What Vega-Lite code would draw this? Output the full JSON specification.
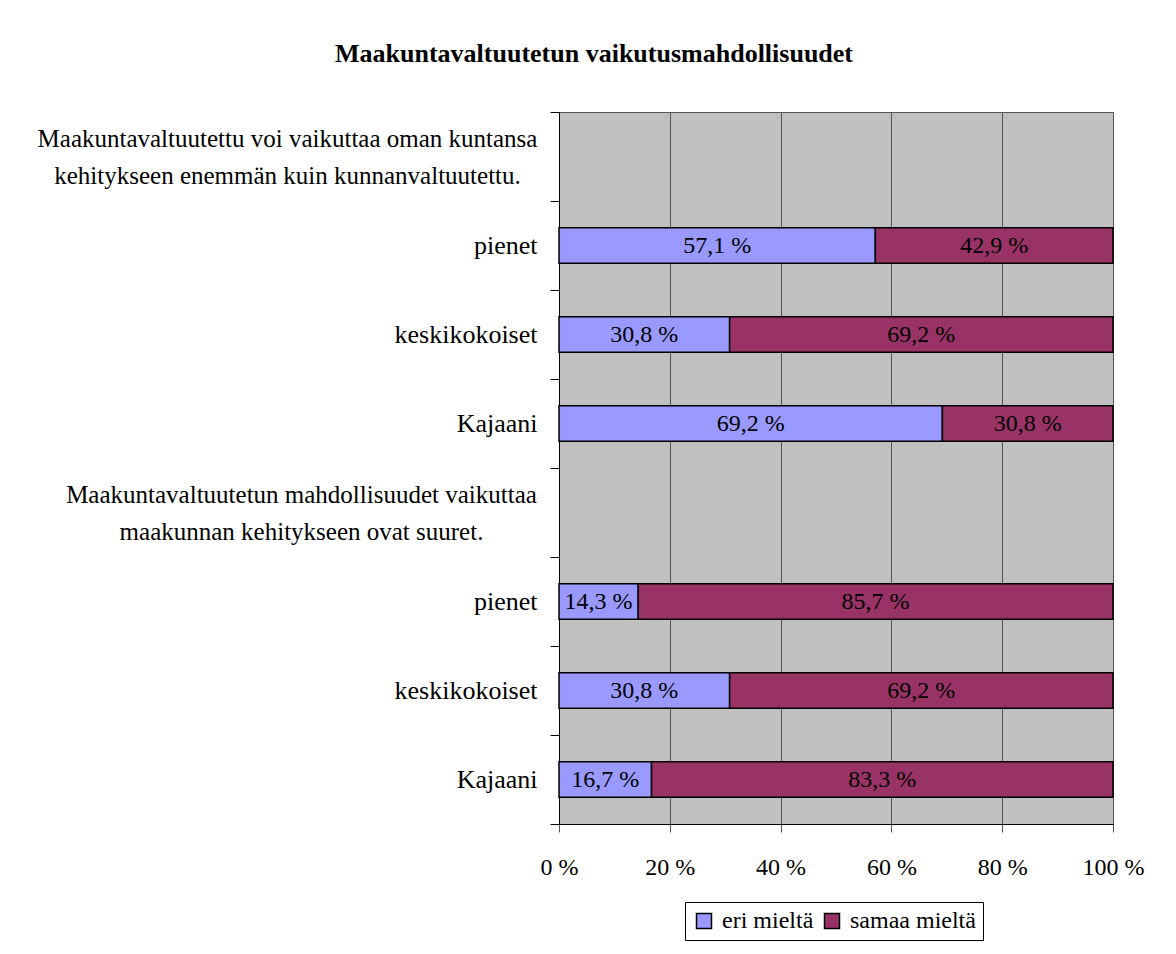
{
  "$schema": "https://vega.github.io/schema/vega-lite/v6.json",
  "autosize": "none",
  "width": 554,
  "height": 712,
  "padding": {"left": 559, "top": 112, "right": 63, "bottom": 130},
  "background": "white",
  "title": {
    "text": "Maakuntavaltuutetun vaikutusmahdollisuudet",
    "font": "Times New Roman",
    "fontSize": 26,
    "fontWeight": "bold",
    "color": "black",
    "anchor": "middle",
    "frame": "group",
    "dx": -242,
    "baseline": "alphabetic",
    "offset": 11
  },
  "config": {
    "view": {"fill": "#C0C0C0", "stroke": "#555555", "strokeWidth": 1},
    "font": "Times New Roman"
  },
  "data": {
    "values": [
      {"rivi": "a1", "vastaus": "eri mieltä", "osuus": 57.1},
      {"rivi": "a1", "vastaus": "samaa mieltä", "osuus": 42.9},
      {"rivi": "a2", "vastaus": "eri mieltä", "osuus": 30.8},
      {"rivi": "a2", "vastaus": "samaa mieltä", "osuus": 69.2},
      {"rivi": "a3", "vastaus": "eri mieltä", "osuus": 69.2},
      {"rivi": "a3", "vastaus": "samaa mieltä", "osuus": 30.8},
      {"rivi": "b1", "vastaus": "eri mieltä", "osuus": 14.3},
      {"rivi": "b1", "vastaus": "samaa mieltä", "osuus": 85.7},
      {"rivi": "b2", "vastaus": "eri mieltä", "osuus": 30.8},
      {"rivi": "b2", "vastaus": "samaa mieltä", "osuus": 69.2},
      {"rivi": "b3", "vastaus": "eri mieltä", "osuus": 16.7},
      {"rivi": "b3", "vastaus": "samaa mieltä", "osuus": 83.3}
    ]
  },
  "transform": [
    {"stack": "osuus", "groupby": ["rivi"], "sort": [{"field": "vastaus"}], "as": ["alku", "loppu"]},
    {"calculate": "(datum.alku + datum.loppu) / 2", "as": "keski"},
    {"calculate": "replace(format(datum.osuus, '.1f'), '.', ',') + ' %'", "as": "teksti"}
  ],
  "encoding": {
    "y": {
      "field": "rivi",
      "type": "nominal",
      "scale": {"domain": ["h1", "a1", "a2", "a3", "h2", "b1", "b2", "b3"], "paddingInner": 0, "paddingOuter": 0},
      "axis": {
        "title": null,
        "domain": true,
        "domainColor": "black",
        "domainWidth": 1,
        "ticks": true,
        "tickColor": "black",
        "tickSize": 9,
        "tickBand": "extent",
        "grid": false,
        "labelFont": "Times New Roman",
        "labelFontSize": {"condition": {"test": "datum.value === 'h1' || datum.value === 'h2'", "value": 25}, "value": 26},
        "labelColor": "black",
        "labelLimit": 700,
        "labelLineHeight": 37,
        "labelBaseline": "middle",
        "labelAlign": {"condition": {"test": "datum.value === 'h1' || datum.value === 'h2'", "value": "center"}, "value": "right"},
        "labelPadding": {"condition": [{"test": "datum.value === 'h1'", "value": 263}, {"test": "datum.value === 'h2'", "value": 249}], "value": 13},
        "labelOffset": {"condition": {"test": "datum.value === 'h1' || datum.value === 'h2'", "value": -18}, "value": 0},
        "labelExpr": "datum.value === 'h1' ? ['Maakuntavaltuutettu voi vaikuttaa oman kuntansa', 'kehitykseen enemmän kuin kunnanvaltuutettu.'] : datum.value === 'h2' ? ['Maakuntavaltuutetun mahdollisuudet vaikuttaa', 'maakunnan kehitykseen ovat suuret.'] : (datum.value === 'a1' || datum.value === 'b1') ? 'pienet' : (datum.value === 'a2' || datum.value === 'b2') ? 'keskikokoiset' : (datum.value === 'a3' || datum.value === 'b3') ? 'Kajaani' : ''"
      }
    }
  },
  "layer": [
    {
      "mark": {"type": "bar", "height": {"band": 0.4}, "stroke": "black", "strokeWidth": 1.5},
      "encoding": {
        "x": {
          "field": "alku",
          "type": "quantitative",
          "scale": {"domain": [0, 100], "nice": false, "zero": true},
          "axis": {
            "title": null,
            "values": [0, 20, 40, 60, 80, 100],
            "labelExpr": "datum.value + ' %'",
            "grid": true,
            "gridColor": "#555555",
            "gridWidth": 1,
            "domainColor": "black",
            "tickColor": "#555555",
            "tickSize": 8,
            "labelFont": "Times New Roman",
            "labelFontSize": 24,
            "labelColor": "black",
            "labelPadding": 23,
            "labelFlush": false,
            "labelOverlap": false
          }
        },
        "x2": {"field": "loppu"},
        "color": {
          "field": "vastaus",
          "type": "nominal",
          "scale": {"domain": ["eri mieltä", "samaa mieltä"], "range": ["#9999FF", "#993366"]},
          "legend": {
            "title": null,
            "orient": "none",
            "legendX": 126,
            "legendY": 790,
            "direction": "horizontal",
            "fillColor": "white",
            "strokeColor": "black",
            "padding": 7,
            "symbolType": "square",
            "symbolSize": 225,
            "symbolStrokeColor": "black",
            "symbolStrokeWidth": 1.5,
            "symbolOpacity": 1,
            "labelFont": "Times New Roman",
            "labelFontSize": 24,
            "labelColor": "black",
            "labelOffset": 6,
            "columnPadding": 6,
            "labelLimit": 300
          }
        }
      }
    },
    {
      "mark": {"type": "text", "font": "Times New Roman", "fontSize": 24, "color": "black", "align": "center", "baseline": "middle"},
      "encoding": {
        "x": {"field": "keski", "type": "quantitative"},
        "text": {"field": "teksti", "type": "nominal"}
      }
    }
  ]
}
